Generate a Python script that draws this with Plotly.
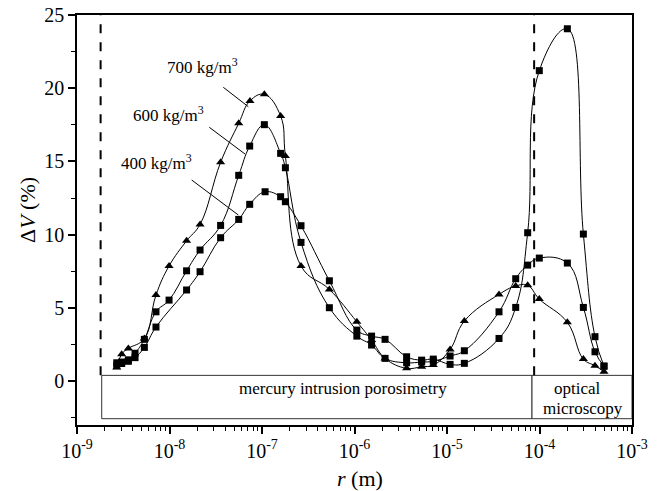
import plotly.graph_objects as go

# ---------------- data ----------------
r_400 = [2.69e-9, 3.04e-9, 3.59e-9, 4.24e-9, 5.35e-9, 7.14e-9, 1.53e-8, 2.14e-8, 3.57e-8, 5.60e-8,
         7.36e-8, 1.08e-7, 1.59e-7, 1.79e-7, 2.64e-7, 5.35e-7, 1.06e-6, 1.53e-6, 2.14e-6, 3.66e-6,
         5.32e-6, 7.11e-6, 1.08e-5, 1.54e-5, 3.65e-5, 5.53e-5, 7.45e-5, 9.95e-5, 2.00e-4, 2.98e-4,
         3.98e-4, 4.98e-4]
dv_400 = [1.05, 1.2, 1.35, 1.6, 2.3, 3.69, 6.22, 7.47, 9.79, 11.04,
          12.07, 12.93, 12.59, 12.25, 10.61, 6.85, 3.48, 3.07, 2.85, 1.66,
          1.43, 1.50, 1.14, 1.21, 2.91, 5.03, 10.13, 21.2, 24.06, 10.04,
          3.03, 1.02]

r_600 = [2.69e-9, 3.04e-9, 3.59e-9, 4.24e-9, 5.35e-9, 7.14e-9, 9.89e-9, 1.53e-8, 2.14e-8, 3.57e-8,
         5.60e-8, 7.36e-8, 1.06e-7, 1.59e-7, 1.79e-7, 2.64e-7, 5.35e-7, 1.06e-6, 1.53e-6, 2.14e-6,
         3.66e-6, 5.32e-6, 7.11e-6, 1.08e-5, 1.54e-5, 3.65e-5, 5.53e-5, 7.45e-5, 9.95e-5, 2.00e-4,
         2.98e-4, 3.98e-4, 4.98e-4]
dv_600 = [1.25, 1.3, 1.45, 1.9, 2.85, 4.73, 5.53, 7.53, 8.95, 10.63,
          14.05, 16.05, 17.51, 15.55, 14.57, 9.47, 5.01, 3.07, 2.46, 1.55,
          1.25, 1.3, 1.35, 1.71, 2.07, 4.73, 6.99, 7.92, 8.40, 8.06,
          5.03, 2.0, 1.02]

r_700 = [2.69e-9, 3.04e-9, 3.59e-9, 5.35e-9, 7.14e-9, 9.89e-9, 1.53e-8, 2.14e-8, 3.57e-8, 5.60e-8,
         7.41e-8, 1.06e-7, 1.59e-7, 1.79e-7, 2.64e-7, 5.35e-7, 1.06e-6, 1.53e-6, 2.14e-6, 3.66e-6,
         5.32e-6, 7.11e-6, 1.08e-5, 1.54e-5, 3.65e-5, 5.53e-5, 7.45e-5, 9.95e-5, 2.00e-4, 2.98e-4,
         3.98e-4, 4.98e-4]
dv_700 = [0.93, 1.84, 2.23, 2.9, 5.87, 7.86, 9.58, 10.70, 14.94, 17.6,
          19.13, 19.58, 18.1, 15.37, 7.86, 6.26, 4.05, 2.80, 1.55, 0.87,
          0.98, 1.09, 2.16, 4.10, 5.92, 6.49, 6.54, 5.60, 4.01, 1.50,
          1.05, 0.64]

series_labels = ["400 kg/m<sup>3</sup>", "600 kg/m<sup>3</sup>", "700 kg/m<sup>3</sup>"]
x_tick_vals = [1e-9, 1e-8, 1e-7, 1e-6, 1e-5, 1e-4, 1e-3]
x_tick_text = ["10<sup>-9</sup>", "10<sup>-8</sup>", "10<sup>-7</sup>", "10<sup>-6</sup>",
               "10<sup>-5</sup>", "10<sup>-4</sup>", "10<sup>-3</sup>"]
y_tick_vals = [0, 5, 10, 15, 20, 25]

# method ranges (m)
mip_range = [1.85e-9, 8.3e-5]
optical_range = [8.3e-5, 1e-3]
dash_lines = [1.8e-9, 8.75e-5]
method_labels = ["mercury intrusion porosimetry", "optical", "microscopy"]

FONT = "Liberation Serif"
PAGE_PAD = 8  # default body margin of the html page

fig = go.Figure()
for r, dv, sym, sz in [(r_400, dv_400, "square", 7), (r_600, dv_600, "square", 7),
                       (r_700, dv_700, "triangle-up", 8)]:
    fig.add_trace(go.Scatter(x=r, y=dv, mode="lines+markers",
                             line=dict(color="black", width=1, shape="spline", smoothing=1.2),
                             marker=dict(symbol=sym, size=sz, color="black"),
                             showlegend=False, cliponaxis=False))

minor_vals = [m * 10 ** e for e in range(-9, -3) for m in range(2, 10)]

fig.update_layout(
    width=659 - PAGE_PAD, height=491 - PAGE_PAD,
    margin=dict(l=77 - PAGE_PAD, r=27, t=15 - PAGE_PAD, b=66, autoexpand=False),
    paper_bgcolor="white", plot_bgcolor="white",
    font=dict(family=FONT, size=20, color="black"),
    xaxis=dict(type="log", range=[-9, -3], tickvals=x_tick_vals, ticktext=x_tick_text,
               automargin=False, ticklabeloverflow="allow",
               ticks="outside", ticklen=7, tickwidth=1.5, tickcolor="black",
               tickfont=dict(family=FONT, size=20),
               showline=True, linewidth=1.5, linecolor="black", mirror=True,
               showgrid=False, zeroline=False,
               minor=dict(tickvals=minor_vals, ticks="outside", ticklen=4, tickwidth=1,
                          tickcolor="black", showgrid=False)),
    yaxis=dict(range=[-3, 25], tickvals=y_tick_vals, automargin=False, ticklabeloverflow="allow",
               ticks="outside", ticklen=7, tickwidth=1.5, tickcolor="black",
               tickfont=dict(family=FONT, size=20), ticklabelstandoff=0,
               showline=True, linewidth=1.5, linecolor="black", mirror=True,
               showgrid=False, zeroline=False,
               minor=dict(dtick=2.5, tick0=0, ticks="outside", ticklen=4, tickwidth=1,
                          tickcolor="black", showgrid=False)),
)

# method boxes (drawn below the data)
for rng in [mip_range, optical_range]:
    fig.add_shape(type="rect", xref="x", yref="y", x0=rng[0], x1=rng[1],
                  y0=-2.57, y1=0.39, line=dict(color="#333333", width=1), fillcolor="white",
                  layer="below")

# dashed boundaries
for xv in dash_lines:
    fig.add_shape(type="line", xref="x", yref="y", x0=xv, x1=xv,
                  y0=0.39, y1=25, line=dict(color="black", width=2, dash="dash"), layer="below")

def px2paper(px, py):
    # page pixel -> paper fraction (plot area spans x 77..632, y 15..425 on the page)
    return (px - 77) / 555, (425 - py) / 410

# method labels
for txt, (px, py) in zip(method_labels, [(343, 388), (577, 388), (583, 408)]):
    xp, yp = px2paper(px, py)
    fig.add_annotation(x=xp, y=yp, xref="paper", yref="paper", text=txt, showarrow=False,
                       font=dict(family=FONT, size=17), xanchor="center", yanchor="middle")

# series labels with leader lines
label_pos = [(156, 162), (168, 114), (202, 66)]
leader = [((191.7, 180), (238.3, 215)), ((209.3, 127.3), (245, 154)), ((223.3, 87.3), (248.3, 106.7))]
for txt, (px, py), (a, b) in zip(series_labels, label_pos, leader):
    xp, yp = px2paper(px, py)
    fig.add_annotation(x=xp, y=yp, xref="paper", yref="paper", text=txt, showarrow=False,
                       font=dict(family=FONT, size=17), xanchor="center", yanchor="middle")
    x0, y0 = px2paper(*a)
    x1, y1 = px2paper(*b)
    fig.add_shape(type="line", xref="paper", yref="paper", x0=x0, y0=y0, x1=x1, y1=y1,
                  line=dict(color="black", width=1))

# axis titles
xp, yp = px2paper(360, 478)
fig.add_annotation(x=xp, y=yp, xref="paper", yref="paper", text="<i>r</i> (m)", showarrow=False,
                   font=dict(family=FONT, size=22), xanchor="center", yanchor="middle")
xp, yp = px2paper(27, 210)
fig.add_annotation(x=xp, y=yp, xref="paper", yref="paper", text="Δ<i>V</i> (%)", showarrow=False,
                   font=dict(family=FONT, size=22), textangle=-90, xanchor="center", yanchor="middle")

fig.write_html("out.html")
